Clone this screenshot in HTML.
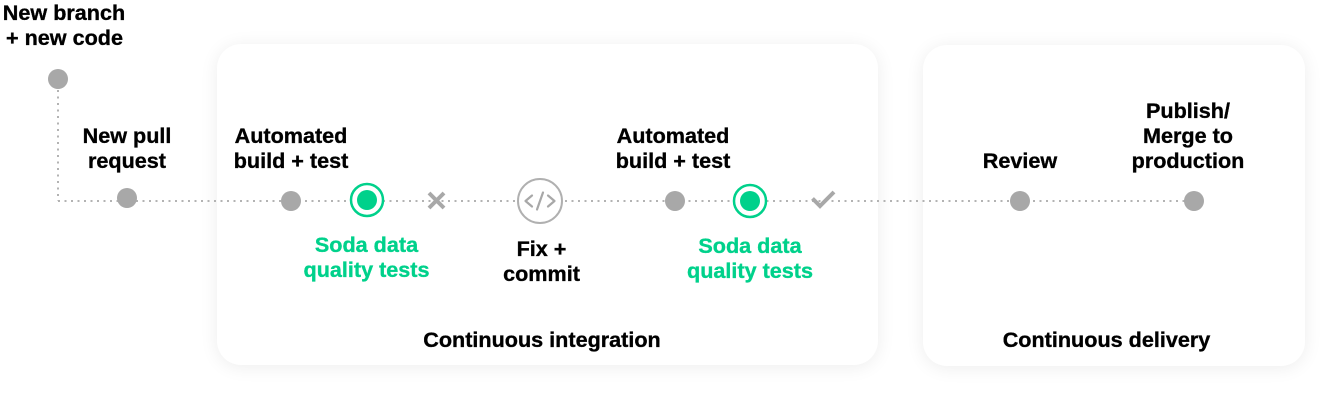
<!DOCTYPE html>
<html>
<head>
<meta charset="utf-8">
<style>
  html, body { margin: 0; padding: 0; background: #ffffff; }
  body { width: 1341px; height: 407px; position: relative; overflow: hidden; }
  .card {
    position: absolute;
    background: #ffffff;
    border-radius: 24px;
    box-shadow: 0 2px 18px rgba(0,0,0,0.075);
  }
  svg { position: absolute; left: 0; top: 0; }
  text { font-family: "Liberation Sans", Arial, sans-serif; font-weight: bold; font-size: 21.6px; stroke-width: 0.35px; }
  .k { fill: #000000; stroke: #000000; }
  .g { fill: #00D18B; stroke: #00D18B; }
</style>
</head>
<body>
  <div class="card" style="left:217px; top:44px; width:661px; height:321px;"></div>
  <div class="card" style="left:923px; top:45px; width:382px; height:321px;"></div>

  <svg width="1341" height="407" viewBox="0 0 1341 407" xmlns="http://www.w3.org/2000/svg">
    <!-- dotted connectors -->
    <line x1="58" y1="90" x2="58" y2="201" stroke="#b3b3b3" stroke-width="2" stroke-dasharray="2 4.5"/>
    <line x1="58" y1="201" x2="1194" y2="201" stroke="#b3b3b3" stroke-width="2" stroke-dasharray="2 4.5"/>

    <!-- nodes -->
    <circle cx="58" cy="79" r="10" fill="#a8a8a8"/>
    <circle cx="127" cy="198" r="10" fill="#a8a8a8"/>
    <circle cx="291" cy="201" r="10" fill="#a8a8a8"/>

    <circle cx="367" cy="200" r="16" fill="#ffffff" stroke="#00D18B" stroke-width="2.5"/>
    <circle cx="367" cy="200" r="10" fill="#00D18B"/>

    <!-- X -->
    <g stroke="#a8a8a8" stroke-width="4" stroke-linecap="butt">
      <line x1="429" y1="193" x2="444" y2="208"/>
      <line x1="444" y1="193" x2="429" y2="208"/>
    </g>

    <!-- code icon -->
    <circle cx="540" cy="201" r="22" fill="#ffffff" stroke="#b0b0b0" stroke-width="2"/>
    <g stroke="#a8a8a8" stroke-width="2.2" fill="none" stroke-linecap="round" stroke-linejoin="round">
      <polyline points="532,195.5 525.5,201 532,206.5"/>
      <polyline points="548,195.5 554.5,201 548,206.5"/>
      <line x1="543" y1="192.5" x2="537" y2="209.5"/>
    </g>

    <circle cx="675" cy="201" r="10" fill="#a8a8a8"/>

    <circle cx="750" cy="201" r="16" fill="#ffffff" stroke="#00D18B" stroke-width="2.5"/>
    <circle cx="750" cy="201" r="10" fill="#00D18B"/>

    <!-- check -->
    <polyline points="812.5,198.5 820,206 834,192" fill="none" stroke="#a8a8a8" stroke-width="4" stroke-linecap="butt" stroke-linejoin="miter"/>

    <circle cx="1020" cy="201" r="10" fill="#a8a8a8"/>
    <circle cx="1194" cy="201" r="10" fill="#a8a8a8"/>

    <!-- labels -->
    <text class="k" x="64" y="20" text-anchor="middle">New branch</text>
    <text class="k" x="64.5" y="45" text-anchor="middle">+ new code</text>

    <text class="k" x="127" y="143" text-anchor="middle">New pull</text>
    <text class="k" x="127" y="168" text-anchor="middle">request</text>

    <text class="k" x="291" y="143" text-anchor="middle">Automated</text>
    <text class="k" x="291" y="168" text-anchor="middle">build + test</text>

    <text class="g" x="366.5" y="252" text-anchor="middle">Soda data</text>
    <text class="g" x="366.5" y="277" text-anchor="middle">quality tests</text>

    <text class="k" x="541.5" y="256" text-anchor="middle">Fix +</text>
    <text class="k" x="541.5" y="281" text-anchor="middle">commit</text>

    <text class="k" x="673" y="143" text-anchor="middle">Automated</text>
    <text class="k" x="673" y="168" text-anchor="middle">build + test</text>

    <text class="g" x="750" y="253" text-anchor="middle">Soda data</text>
    <text class="g" x="750" y="278" text-anchor="middle">quality tests</text>

    <text class="k" x="1020" y="168" text-anchor="middle">Review</text>

    <text class="k" x="1188" y="118" text-anchor="middle">Publish/</text>
    <text class="k" x="1188" y="143" text-anchor="middle">Merge to</text>
    <text class="k" x="1188" y="168" text-anchor="middle">production</text>

    <text class="k" x="542" y="347" text-anchor="middle">Continuous integration</text>
    <text class="k" x="1106.5" y="347" text-anchor="middle">Continuous delivery</text>
  </svg>
</body>
</html>
